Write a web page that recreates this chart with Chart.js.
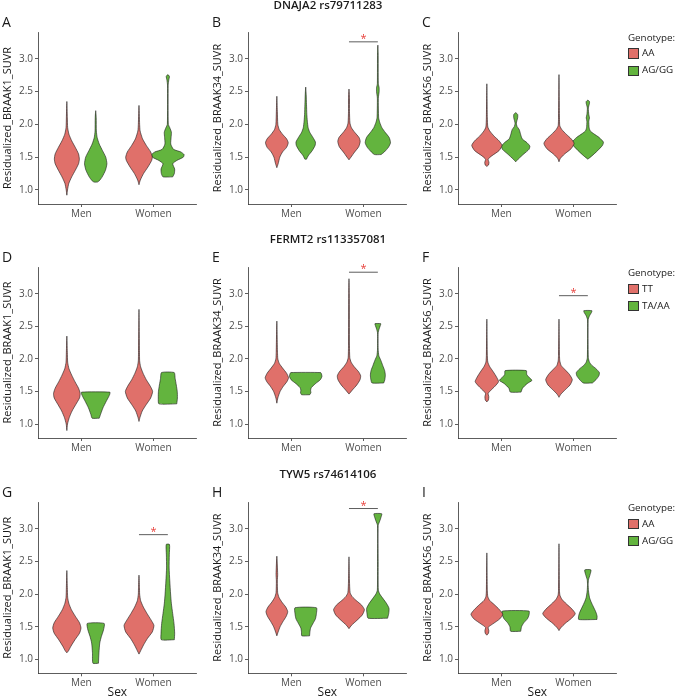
<!DOCTYPE html>
<html>
<head>
<meta charset="utf-8">
<script src="https://cdn.jsdelivr.net/npm/chart.js@4.4.1/dist/chart.umd.min.js"></script>
<style>
  body { margin: 0; background: #fff; font-family: "Open Sans", sans-serif; }
  #fig { position: relative; width: 676px; height: 699px; overflow: hidden; }
  .panel { position: absolute; }
  .letter { position: absolute; font-size: 14px; line-height: 14px; color: #1a1a1a; }
  .rowTitle { position: absolute; width: 240px; text-align: center; font-size: 11.5px; line-height: 11.5px; font-weight: 600; color: #1a1a1a; white-space: nowrap; }
  .legText { position: absolute; font-size: 9.8px; line-height: 10px; color: #1a1a1a; white-space: nowrap; }
  .legBox { position: absolute; width: 8.4px; height: 8.4px; border: 0.8px solid #333; }
</style>
</head>
<body>
<div id="fig"></div>
<script>
// chart data
const sexLabels = ['Men', 'Women'];
const yTickValues = [1.0, 1.5, 2.0, 2.5, 3.0];
const rowTitles = ['DNAJA2 rs79711283', 'FERMT2 rs113357081', 'TYW5 rs74614106'];
const yTitles = ['Residualized_BRAAK1_SUVR', 'Residualized_BRAAK34_SUVR', 'Residualized_BRAAK56_SUVR'];
const panelLetters = ['A', 'B', 'C', 'D', 'E', 'F', 'G', 'H', 'I'];
const genotypeLabels = [['AA', 'AG/GG'], ['TT', 'TA/AA'], ['AA', 'AG/GG']];
// y of the significance bracket over Women (null = none)
const sigY = [null, 3.26, null, null, 3.33, 2.97, 2.91, 3.31, null];

// violin profiles: [SUVR, relative half width], order Men ref, Men carrier, Women ref, Women carrier
const violinA = [
  [[0.92,0],[1.0,0.04],[1.1,0.12],[1.2,0.3],[1.3,0.52],[1.4,0.72],[1.47,0.77],[1.55,0.72],[1.65,0.52],[1.75,0.3],[1.85,0.13],[1.95,0.05],[2.1,0.03],[2.35,0]],
  [[1.12,0.1],[1.14,0.22],[1.2,0.4],[1.3,0.6],[1.4,0.69],[1.5,0.62],[1.6,0.42],[1.7,0.22],[1.8,0.09],[1.9,0.04],[2.1,0.03],[2.21,0]],
  [[1.08,0],[1.15,0.08],[1.25,0.28],[1.35,0.55],[1.45,0.78],[1.5,0.82],[1.58,0.72],[1.68,0.45],[1.78,0.22],[1.9,0.07],[2.0,0.04],[2.29,0]],
  [[1.2,0.3],[1.25,0.4],[1.32,0.42],[1.4,0.3],[1.45,0.55],[1.5,0.95],[1.54,1.0],[1.58,0.8],[1.62,0.35],[1.7,0.18],[1.8,0.2],[1.88,0.22],[1.95,0.12],[2.0,0.03],[2.6,0.02],[2.68,0.06],[2.73,0.1],[2.76,0]]
];
const violinB = [
  [[1.34,0],[1.4,0.08],[1.5,0.18],[1.58,0.35],[1.65,0.6],[1.72,0.7],[1.78,0.6],[1.85,0.35],[1.92,0.15],[2.0,0.06],[2.2,0.03],[2.43,0]],
  [[1.47,0.05],[1.52,0.15],[1.6,0.4],[1.68,0.58],[1.73,0.6],[1.8,0.45],[1.88,0.25],[1.95,0.15],[2.05,0.1],[2.15,0.07],[2.3,0.05],[2.45,0.03],[2.57,0]],
  [[1.46,0],[1.5,0.12],[1.58,0.35],[1.66,0.6],[1.74,0.69],[1.8,0.62],[1.88,0.35],[1.95,0.15],[2.02,0.06],[2.2,0.03],[2.4,0.03],[2.54,0]],
  [[1.54,0.2],[1.58,0.4],[1.65,0.65],[1.72,0.78],[1.8,0.7],[1.88,0.45],[1.95,0.25],[2.03,0.12],[2.1,0.05],[2.4,0.03],[2.5,0.08],[2.56,0.08],[2.62,0.03],[3.1,0.02],[3.21,0]]
];
const violinC = [
  [[1.36,0],[1.38,0.1],[1.42,0.13],[1.47,0.08],[1.52,0.3],[1.6,0.75],[1.68,0.93],[1.75,0.75],[1.82,0.45],[1.9,0.18],[1.96,0.06],[2.1,0.03],[2.62,0]],
  [[1.43,0],[1.47,0.15],[1.55,0.5],[1.62,0.82],[1.67,0.87],[1.72,0.7],[1.78,0.4],[1.85,0.3],[1.92,0.22],[1.97,0.08],[2.02,0.04],[2.1,0.12],[2.15,0.12],[2.18,0]],
  [[1.43,0],[1.48,0.08],[1.55,0.35],[1.63,0.75],[1.71,0.93],[1.78,0.75],[1.85,0.45],[1.92,0.18],[1.98,0.05],[2.1,0.03],[2.76,0]],
  [[1.47,0],[1.52,0.25],[1.6,0.6],[1.68,0.9],[1.73,0.96],[1.8,0.7],[1.86,0.35],[1.9,0.15],[1.95,0.08],[2.05,0.06],[2.1,0.1],[2.15,0.06],[2.25,0.03],[2.32,0.1],[2.35,0.1],[2.37,0]]
];
const violinD = [
  [[0.9,0],[1.0,0.04],[1.1,0.15],[1.2,0.32],[1.3,0.55],[1.4,0.78],[1.47,0.82],[1.55,0.72],[1.65,0.5],[1.75,0.3],[1.85,0.13],[1.95,0.05],[2.1,0.03],[2.35,0]],
  [[1.09,0.22],[1.15,0.3],[1.25,0.45],[1.35,0.65],[1.42,0.8],[1.46,0.87],[1.49,0.87]],
  [[1.04,0],[1.1,0.06],[1.2,0.2],[1.3,0.45],[1.4,0.72],[1.5,0.84],[1.58,0.7],[1.68,0.45],[1.78,0.25],[1.88,0.1],[1.97,0.04],[2.1,0.03],[2.76,0]],
  [[1.31,0.55],[1.4,0.59],[1.5,0.58],[1.6,0.52],[1.7,0.45],[1.79,0.39]]
];
const violinE = [
  [[1.32,0],[1.4,0.06],[1.5,0.2],[1.58,0.4],[1.65,0.62],[1.71,0.72],[1.78,0.6],[1.86,0.35],[1.93,0.15],[2.0,0.06],[2.1,0.04],[2.58,0]],
  [[1.45,0.25],[1.48,0.32],[1.52,0.3],[1.56,0.35],[1.62,0.6],[1.68,0.9],[1.73,1.0],[1.77,0.97],[1.79,0.92]],
  [[1.46,0],[1.52,0.2],[1.6,0.48],[1.68,0.68],[1.74,0.72],[1.8,0.6],[1.88,0.32],[1.95,0.13],[2.02,0.05],[2.2,0.03],[3.0,0.02],[3.23,0]],
  [[1.63,0.36],[1.68,0.43],[1.75,0.46],[1.82,0.42],[1.9,0.3],[1.98,0.18],[2.05,0.06],[2.15,0.02],[2.4,0.02],[2.46,0.08],[2.51,0.15],[2.54,0.18]]
];
const violinF = [
  [[1.34,0],[1.37,0.1],[1.42,0.12],[1.47,0.08],[1.52,0.25],[1.58,0.5],[1.65,0.72],[1.72,0.6],[1.8,0.4],[1.88,0.18],[1.95,0.06],[2.05,0.03],[2.61,0]],
  [[1.49,0.33],[1.55,0.42],[1.62,0.7],[1.67,1.0],[1.71,0.85],[1.76,0.68],[1.82,0.65]],
  [[1.41,0],[1.46,0.12],[1.53,0.4],[1.6,0.68],[1.68,0.82],[1.76,0.65],[1.84,0.35],[1.9,0.13],[1.97,0.05],[2.05,0.03],[2.61,0]],
  [[1.63,0.28],[1.68,0.5],[1.74,0.68],[1.79,0.71],[1.85,0.5],[1.9,0.25],[1.95,0.1],[2.02,0.03],[2.6,0.02],[2.66,0.1],[2.71,0.22],[2.74,0.25]]
];
const violinG = [
  [[1.1,0],[1.13,0.1],[1.2,0.25],[1.3,0.5],[1.4,0.78],[1.48,0.87],[1.56,0.78],[1.66,0.52],[1.76,0.28],[1.86,0.12],[1.95,0.05],[2.1,0.03],[2.36,0]],
  [[0.94,0.17],[1.1,0.2],[1.25,0.25],[1.35,0.35],[1.45,0.48],[1.55,0.52]],
  [[1.08,0],[1.13,0.1],[1.22,0.28],[1.32,0.52],[1.42,0.82],[1.52,0.92],[1.6,0.75],[1.7,0.5],[1.8,0.27],[1.9,0.1],[2.0,0.04],[2.1,0.03],[2.29,0]],
  [[1.3,0.4],[1.4,0.42],[1.55,0.38],[1.7,0.3],[1.85,0.22],[2.0,0.17],[2.2,0.12],[2.4,0.08],[2.6,0.09],[2.76,0.1]]
];
const violinH = [
  [[1.36,0],[1.42,0.08],[1.5,0.2],[1.58,0.38],[1.66,0.58],[1.73,0.67],[1.8,0.55],[1.88,0.3],[1.95,0.13],[2.02,0.05],[2.2,0.03],[2.3,0.05],[2.58,0]],
  [[1.36,0.24],[1.42,0.26],[1.48,0.3],[1.55,0.45],[1.62,0.6],[1.7,0.66],[1.79,0.66]],
  [[1.47,0],[1.52,0.15],[1.6,0.5],[1.68,0.82],[1.76,0.95],[1.83,0.78],[1.9,0.45],[1.96,0.2],[2.02,0.07],[2.2,0.03],[2.57,0]],
  [[1.63,0.6],[1.7,0.67],[1.78,0.69],[1.85,0.55],[1.93,0.32],[2.0,0.12],[2.06,0.03],[2.5,0.02],[3.05,0.02],[3.12,0.12],[3.18,0.2],[3.23,0.24]]
];
const violinI = [
  [[1.37,0],[1.4,0.1],[1.44,0.12],[1.49,0.08],[1.54,0.35],[1.62,0.8],[1.69,0.98],[1.76,0.78],[1.84,0.45],[1.9,0.18],[1.96,0.06],[2.05,0.03],[2.63,0]],
  [[1.43,0.31],[1.5,0.36],[1.56,0.5],[1.62,0.72],[1.68,0.82],[1.74,0.82]],
  [[1.44,0],[1.48,0.1],[1.55,0.38],[1.63,0.78],[1.7,1.0],[1.77,0.8],[1.85,0.45],[1.92,0.18],[1.98,0.06],[2.05,0.03],[2.77,0]],
  [[1.61,0.56],[1.66,0.57],[1.72,0.5],[1.8,0.35],[1.88,0.2],[1.95,0.1],[2.05,0.04],[2.15,0.02],[2.22,0.04],[2.3,0.14],[2.37,0.19]]
];
const panelViolins = [violinA, violinB, violinC, violinD, violinE, violinF, violinG, violinH, violinI];

// look
const fillColors = ['#E0706A', '#63B43E'];
const FONT = "'Open Sans', sans-serif";
const dodge = 0.2;          // group offset from the sex position (x units)
const maxHalfWidth = 0.225; // widest violin half width (x units)
const rowTop = [0, 235, 470];
const canvasH = [234, 234, 229];
const plotBottom = [204, 203, 203.3];

Chart.defaults.font.family = FONT;

// trace a closed outline: right side up, left side down
function outline(profile, cx) {
  const pts = [];
  profile.forEach(p => pts.push({ x: cx + p[1] * maxHalfWidth, y: p[0] }));
  for (let i = profile.length - 1; i >= 0; i--) {
    pts.push({ x: cx - profile[i][1] * maxHalfWidth, y: profile[i][0] });
  }
  pts.push(pts[0]);
  return pts.filter((p, i) => i === 0 || p.x !== pts[i - 1].x || p.y !== pts[i - 1].y);
}

// red asterisk above the bracket
const sigStarPlugin = {
  id: 'sigStar',
  afterDatasetsDraw(chart, args, opts) {
    if (opts.y == null) return;
    const ctx = chart.ctx;
    const px = chart.scales.x.getPixelForValue(2);
    const py = chart.scales.y.getPixelForValue(opts.y);
    ctx.save();
    ctx.fillStyle = '#E8413C';
    ctx.font = '11px ' + FONT;
    ctx.textAlign = 'center';
    ctx.textBaseline = 'middle';
    ctx.fillText('*', px, py - 3);
    ctx.restore();
  }
};

const fig = document.getElementById('fig');

function addDiv(cls, text, left, top) {
  const d = document.createElement('div');
  d.className = cls;
  d.textContent = text;
  d.style.left = left + 'px';
  d.style.top = top + 'px';
  fig.appendChild(d);
  return d;
}

for (let i = 0; i < 9; i++) {
  const row = Math.floor(i / 3);
  const col = i % 3;

  const wrap = document.createElement('div');
  wrap.className = 'panel';
  wrap.style.left = (210 * col) + 'px';
  wrap.style.top = rowTop[row] + 'px';
  const canvas = document.createElement('canvas');
  canvas.width = 210;
  canvas.height = canvasH[row];
  wrap.appendChild(canvas);
  fig.appendChild(wrap);

  const datasets = [];
  panelViolins[i].forEach((profile, k) => {
    const sex = Math.floor(k / 2) + 1;
    const geno = k % 2;
    datasets.push({
      data: outline(profile, sex + (geno ? dodge : -dodge)),
      showLine: true,
      fill: 'shape',
      backgroundColor: fillColors[geno],
      borderColor: '#1a1a1a',
      borderWidth: 0.6,
      pointRadius: 0,
      tension: 0.2
    });
  });
  if (sigY[i] != null) {
    datasets.push({
      data: [{ x: 2 - dodge, y: sigY[i] }, { x: 2 + dodge, y: sigY[i] }],
      showLine: true,
      borderColor: '#333',
      borderWidth: 0.8,
      pointRadius: 0
    });
  }

  const axisGrid = { display: true, drawOnChartArea: false, drawTicks: true, tickLength: 3, color: '#333', lineWidth: 0.8 };
  const axisBorder = { display: true, color: '#333', width: 0.8 };

  new Chart(canvas, {
    type: 'scatter',
    data: { datasets: datasets },
    options: {
      responsive: false,
      animation: false,
      layout: { padding: { left: 0, right: 13.3, top: 32, bottom: 0 } },
      plugins: {
        legend: { display: false },
        tooltip: { enabled: false },
        sigStar: { y: sigY[i] }
      },
      scales: {
        x: {
          type: 'linear',
          min: 0.4,
          max: 2.6,
          afterBuildTicks: s => { s.ticks = [{ value: 1 }, { value: 2 }]; },
          afterFit: s => { s.height = canvasH[row] - plotBottom[row]; },
          ticks: {
            callback: v => sexLabels[v - 1],
            font: { size: 10 },
            color: '#4d4d4d',
            padding: 1,
            autoSkip: false,
            maxRotation: 0
          },
          grid: axisGrid,
          border: axisBorder,
          title: {
            display: row === 2,
            text: 'Sex',
            color: '#1a1a1a',
            font: { size: 12, lineHeight: 1 },
            padding: 0
          }
        },
        y: {
          min: 0.786,
          max: 3.41,
          afterBuildTicks: s => { s.ticks = yTickValues.map(v => ({ value: v })); },
          afterFit: s => { s.width = 38; },
          ticks: {
            callback: v => v.toFixed(1),
            font: { size: 10 },
            color: '#4d4d4d',
            padding: 2
          },
          grid: axisGrid,
          border: axisBorder,
          title: {
            display: true,
            text: yTitles[col],
            color: '#1a1a1a',
            font: { size: 11 },
            padding: { top: 1, bottom: 0 }
          }
        }
      }
    },
    plugins: [sigStarPlugin]
  });

  addDiv('letter', panelLetters[i], 2 + 210 * col, rowTop[row] + 14.6);
}

// row titles
rowTitles.forEach((t, r) => {
  addDiv('rowTitle', t, 328 - 120, rowTop[r] - 0.6 + (r === 0 ? 0 : -1));
});

// legends, right of the third column
genotypeLabels.forEach((labels, r) => {
  const top = rowTop[r] + (r === 0 ? 0 : 0.5);
  addDiv('legText', 'Genotype:', 628, top + 32.5);
  labels.forEach((lab, j) => {
    const box = document.createElement('div');
    box.className = 'legBox';
    box.style.left = '628.3px';
    box.style.top = (top + 48.3 + j * 17.3) + 'px';
    box.style.background = fillColors[j];
    fig.appendChild(box);
    addDiv('legText', lab, 642, top + 48 + j * 17.3);
  });
});
</script>
</body>
</html>
